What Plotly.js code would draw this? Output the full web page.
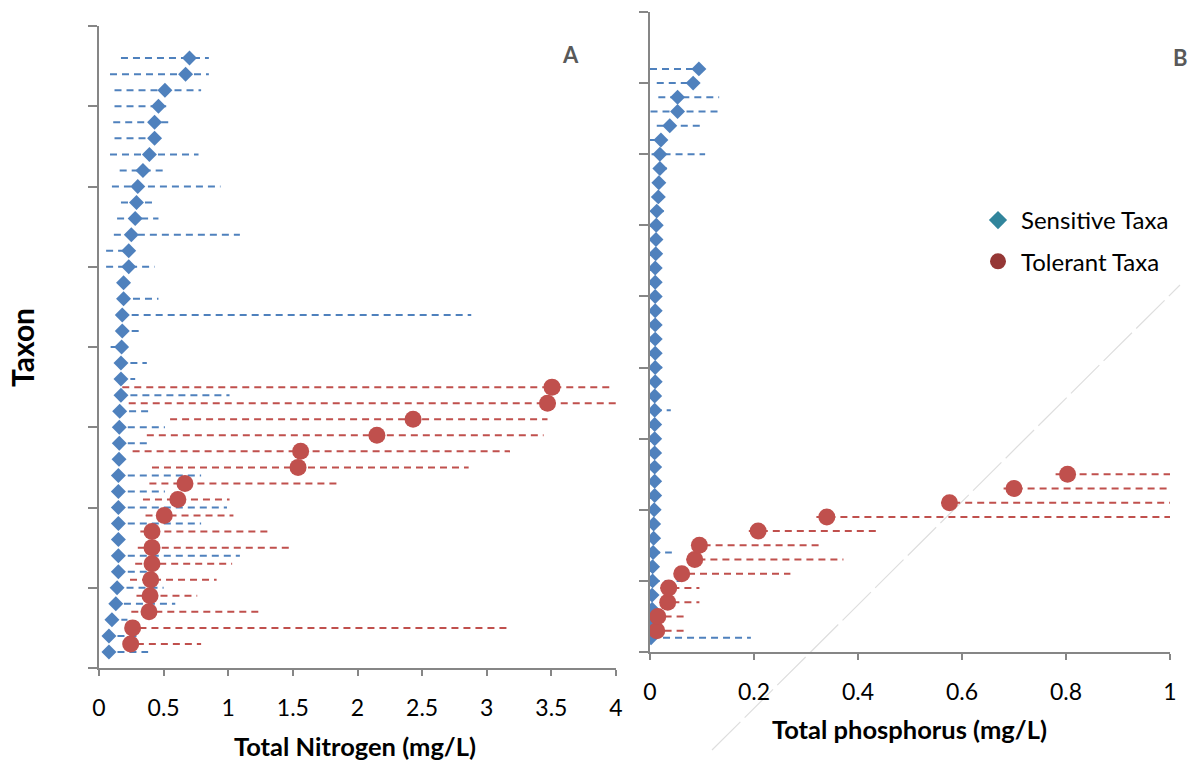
<!DOCTYPE html>
<html>
<head>
<meta charset="utf-8">
<script src="https://cdn.plot.ly/plotly-3.0.1.min.js"></script>
<style>
html,body{margin:0;padding:0;background:#fff;}
#chart{width:1190px;height:761px;}
</style>
</head>
<body>
<div id="chart"></div>
<script>
// ---------- Panel A: Total Nitrogen (mg/L) ----------
// Sensitive taxa, taxon positions 1..38 (bottom to top)
var nSensY = [1,2,3,4,5,6,7,8,9,10,11,12,13,14,15,16,17,18,19,20,21,22,23,24,25,26,27,28,29,30,31,32,33,34,35,36,37,38];
var nSensVal = [0.077,0.077,0.10,0.13,0.14,0.15,0.15,0.15,0.15,0.15,0.15,0.15,0.155,0.157,0.157,0.16,0.17,0.17,0.17,0.175,0.18,0.18,0.19,0.19,0.23,0.23,0.25,0.28,0.29,0.30,0.34,0.39,0.43,0.43,0.46,0.51,0.67,0.70];
var nSensLow = [0.05,0.05,0.08,0.10,0.12,0.13,0.13,0.13,0.13,0.13,0.13,0.13,0.13,0.13,0.13,0.14,0.15,0.15,0.15,0.09,0.16,0.16,0.17,0.17,0.055,0.055,0.115,0.14,0.17,0.10,0.16,0.085,0.12,0.11,0.12,0.12,0.085,0.17];
var nSensHigh = [0.38,0.32,0.22,0.59,0.50,0.39,1.09,0.17,0.79,0.99,0.51,0.79,0.17,0.38,0.51,0.38,1.01,0.28,0.37,0.19,0.32,2.88,0.46,0.21,0.43,0.25,1.09,0.46,0.44,0.94,0.53,0.77,0.49,0.56,0.52,0.79,0.85,0.85];

// Tolerant taxa, positions 1.5..17.5
var nTolY = [1.5,2.5,3.5,4.5,5.5,6.5,7.5,8.5,9.5,10.5,11.5,12.5,13.5,14.5,15.5,16.5,17.5];
var nTolVal = [0.245,0.26,0.387,0.395,0.40,0.41,0.41,0.41,0.505,0.61,0.665,1.54,1.56,2.15,2.43,3.47,3.505];
var nTolLow = [0.20,0.22,0.25,0.29,0.24,0.28,0.30,0.32,0.36,0.34,0.39,0.41,0.26,0.37,0.55,0.23,0.18];
var nTolHigh = [0.79,3.19,1.25,0.76,0.91,1.03,1.50,1.31,1.04,1.01,1.85,2.86,3.18,3.44,3.47,4.0,3.98];

// ---------- Panel B: Total phosphorus (mg/L) ----------
var pSensY = [1,2,3,4,5,6,7,8,9,10,11,12,13,14,15,16,17,18,19,20,21,22,23,24,25,26,27,28,29,30,31,32,33,34,35,36,37,38,39,40,41];
var pSensVal = [0.002,0.003,0.004,0.004,0.005,0.005,0.006,0.007,0.007,0.008,0.009,0.009,0.009,0.009,0.009,0.009,0.009,0.009,0.010,0.010,0.010,0.010,0.010,0.010,0.010,0.010,0.010,0.011,0.0115,0.012,0.013,0.016,0.017,0.019,0.019,0.021,0.038,0.053,0.053,0.083,0.094];
var pSensLow = [0.002,0.003,0.004,0.004,0.005,0.005,0.006,0.007,0.007,0.008,0.009,0.009,0.009,0.009,0.009,0.009,0.009,0.009,0.010,0.010,0.010,0.010,0.010,0.010,0.010,0.010,0.010,0.011,0.0115,0.012,0.013,0.016,0.017,0.019,0.003,0.0,0.013,0.001,0.016,0.013,0.0];
var pSensHigh = [0.194,0.003,0.004,0.004,0.063,0.005,0.042,0.007,0.007,0.008,0.009,0.009,0.009,0.009,0.009,0.009,0.040,0.009,0.010,0.033,0.010,0.010,0.010,0.010,0.010,0.010,0.010,0.011,0.0115,0.012,0.033,0.016,0.017,0.040,0.106,0.021,0.104,0.131,0.133,0.083,0.094];

var pTolY = [1.5,2.5,3.5,4.5,5.5,6.5,7.5,8.5,9.5,10.5,11.5,12.5];
var pTolVal = [0.013,0.015,0.034,0.036,0.061,0.086,0.095,0.208,0.34,0.576,0.70,0.803];
var pTolLow = [0.005,0.005,0.02,0.02,0.05,0.07,0.08,0.19,0.32,0.56,0.68,0.78];
var pTolHigh = [0.074,0.069,0.095,0.095,0.27,0.372,0.328,0.44,1.0,1.0,0.994,1.0];

var xTicksA = [0,0.5,1,1.5,2,2.5,3,3.5,4];
var xTicksB = [0,0.2,0.4,0.6,0.8,1];

var BLUE = '#4F81BD', RED = '#C0504D';
var FONT = 'Lato, "Open Sans", sans-serif';
var DASH = '7px,5px';

function segments(lo, hi, y) {
  var xs = [], ys = [];
  for (var i = 0; i < y.length; i++) {
    xs.push(lo[i], hi[i], null);
    ys.push(y[i], y[i], null);
  }
  return {x: xs, y: ys};
}

function lineTrace(lo, hi, y, color, xa, ya) {
  var s = segments(lo, hi, y);
  return {x: s.x, y: s.y, xaxis: xa, yaxis: ya, mode: 'lines', type: 'scatter',
    line: {color: color, width: 2, dash: DASH}, showlegend: false, hoverinfo: 'skip'};
}
function markTrace(v, y, color, sym, size, xa, ya) {
  return {x: v, y: y, xaxis: xa, yaxis: ya, mode: 'markers', type: 'scatter',
    marker: {color: color, symbol: sym, size: size}, showlegend: false};
}

var data = [
  lineTrace(nSensLow, nSensHigh, nSensY, BLUE, 'x', 'y'),
  markTrace(nSensVal, nSensY, BLUE, 'diamond', 11.5, 'x', 'y'),
  lineTrace(nTolLow, nTolHigh, nTolY, RED, 'x', 'y'),
  markTrace(nTolVal, nTolY, RED, 'circle', 17, 'x', 'y'),
  lineTrace(pSensLow, pSensHigh, pSensY, BLUE, 'x2', 'y2'),
  markTrace(pSensVal, pSensY, BLUE, 'diamond', 11.5, 'x2', 'y2'),
  lineTrace(pTolLow, pTolHigh, pTolY, RED, 'x2', 'y2'),
  markTrace(pTolVal, pTolY, RED, 'circle', 17, 'x2', 'y2'),
  {x: [null], y: [null], xaxis: 'x2', yaxis: 'y2', mode: 'markers', type: 'scatter', name: 'Sensitive Taxa',
   legendgroup: 'a', marker: {color: '#31859C', symbol: 'diamond', size: 14}},
  {x: [null], y: [null], xaxis: 'x2', yaxis: 'y2', mode: 'markers', type: 'scatter', name: 'Tolerant Taxa',
   legendgroup: 'b', marker: {color: '#953735', symbol: 'circle', size: 16}}
];

var W = 1190, H = 761;
function px(x) { return x / W; }
function py(y) { return 1 - y / H; }

var axisCommon = {
  showline: true, linecolor: '#868686', linewidth: 2, ticks: 'outside', tickcolor: '#868686',
  tickwidth: 2, showgrid: false, zeroline: false, fixedrange: true
};

var layout = {
  width: W, height: H,
  margin: {l: 0, r: 0, t: 0, b: 0},
  paper_bgcolor: '#fff', plot_bgcolor: 'rgba(0,0,0,0)',
  font: {family: FONT, color: '#000'},
  showlegend: true,
  legend: {x: px(975), y: py(198), xanchor: 'left', yanchor: 'top', traceorder: 'grouped',
           itemwidth: 36, tracegroupgap: 7, font: {size: 24, family: FONT, color: '#000'}, bgcolor: 'rgba(0,0,0,0)'},
  xaxis: Object.assign({}, axisCommon, {domain: [px(99), px(616)], range: [0, 4], tickvals: xTicksA,
    ticktext: xTicksA.map(String), ticklen: 6, ticklabelstandoff: 12, tickfont: {size: 23, family: FONT}, anchor: 'y'}),
  yaxis: Object.assign({}, axisCommon, {domain: [py(668), py(26)], range: [0, 40], dtick: 5, tick0: 0,
    ticklen: 9, showticklabels: false, anchor: 'x'}),
  xaxis2: Object.assign({}, axisCommon, {domain: [px(650), px(1170)], range: [0, 1], tickvals: xTicksB,
    ticktext: xTicksB.map(String), ticklen: 6, ticklabelstandoff: 12, tickfont: {size: 23, family: FONT}, anchor: 'y2'}),
  yaxis2: Object.assign({}, axisCommon, {domain: [py(652), py(12)], range: [0, 45], dtick: 5, tick0: 0,
    ticklen: 9, showticklabels: false, anchor: 'x2'}),
  shapes: [
    {type: 'line', xref: 'paper', yref: 'paper', x0: px(712), y0: py(750), x1: px(1180), y1: py(285),
     line: {color: '#dedede', width: 1.2, dash: '40px,6px'}, layer: 'below'}
  ],
  annotations: [
    {text: '<b>A</b>', xref: 'paper', yref: 'paper', x: px(570), y: py(54), xanchor: 'center', yanchor: 'middle', showarrow: false,
     font: {size: 22, color: '#595959', family: FONT}},
    {text: '<b>B</b>', xref: 'paper', yref: 'paper', x: px(1180), y: py(57), xanchor: 'center', yanchor: 'middle', showarrow: false,
     font: {size: 22, color: '#595959', family: FONT}},
    {text: '<b>Taxon</b>', xref: 'paper', yref: 'paper', x: px(22), y: py(348), xanchor: 'center', yanchor: 'middle', showarrow: false, textangle: -90,
     font: {size: 30, color: '#000', family: FONT}},
    {text: '<b>Total Nitrogen (mg/L)</b>', xref: 'paper', yref: 'paper', x: px(355), y: py(746), xanchor: 'center', yanchor: 'middle', showarrow: false,
     font: {size: 25.5, color: '#000', family: FONT}},
    {text: '<b>Total phosphorus (mg/L)</b>', xref: 'paper', yref: 'paper', x: px(910), y: py(729), xanchor: 'center', yanchor: 'middle', showarrow: false,
     font: {size: 25.5, color: '#000', family: FONT}}
  ]
};

Plotly.newPlot('chart', data, layout, {displayModeBar: false, staticPlot: true});
</script>
</body>
</html>
